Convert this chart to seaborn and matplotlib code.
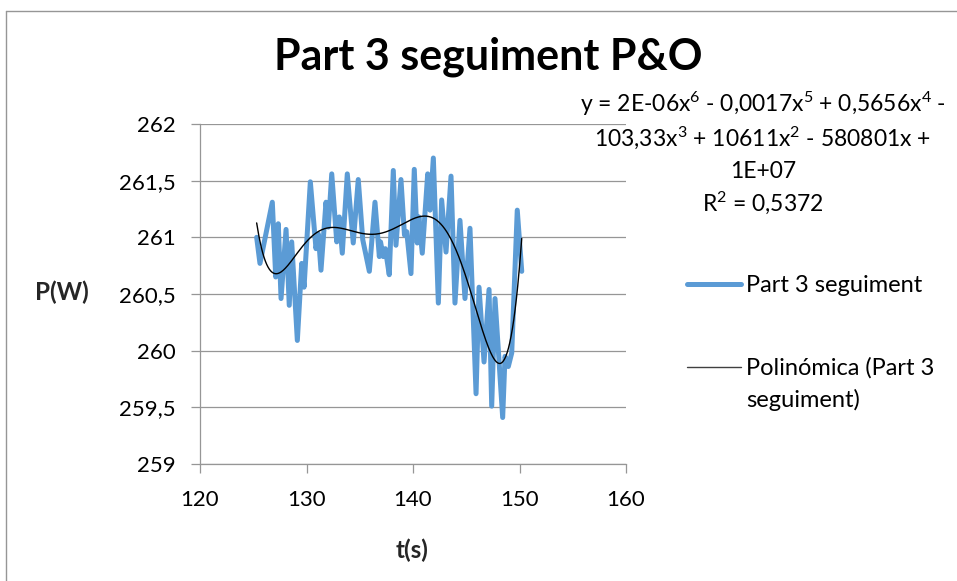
import numpy as np
import pandas as pd
import matplotlib
matplotlib.use("Agg")
import matplotlib.pyplot as plt
import seaborn as sns
from matplotlib.lines import Line2D

# ---------------- data ----------------
t_s = [125.32, 125.63, 126.79, 127.11, 127.35, 127.61, 128.08, 128.38, 128.61,
       129.14, 129.55, 129.77, 130.36, 130.89, 131.11, 131.36, 131.83, 132.05,
       132.37, 132.84, 133.08, 133.36, 133.83, 134.39, 134.86, 135.28, 135.90,
       136.43, 136.84, 136.95, 137.21, 137.40, 137.77, 138.15, 138.40, 138.87,
       139.20, 139.41, 139.81, 140.12, 140.40, 140.55, 140.87, 141.38, 141.60,
       141.91, 142.38, 142.69, 143.10, 143.57, 143.94, 144.41, 144.88, 145.35,
       145.92, 146.20, 146.67, 147.14, 147.39, 147.70, 148.42, 148.64, 148.95,
       149.27, 149.79, 150.21]
p_w = [261.00, 260.77, 261.31, 260.65, 261.12, 260.46, 261.07, 260.40, 260.96,
       260.09, 260.77, 260.56, 261.49, 260.90, 261.03, 260.71, 261.31, 261.09,
       261.56, 260.96, 261.18, 260.86, 261.56, 260.95, 261.51, 260.98, 260.70,
       261.31, 260.83, 260.96, 260.83, 260.90, 260.67, 261.59, 260.93, 261.51,
       261.02, 261.05, 260.68, 261.60, 260.95, 261.18, 260.86, 261.56, 261.24,
       261.70, 260.42, 261.33, 260.87, 261.54, 260.42, 261.15, 260.46, 261.08,
       259.62, 260.56, 259.90, 260.54, 259.51, 260.46, 259.41, 259.95, 259.86,
       259.98, 261.24, 260.70]

title = "Part 3 seguiment P&O"
series_label = "Part 3 seguiment"
trend_label_1 = "Polinómica (Part 3"
trend_label_2 = "seguiment)"
x_label = "t(s)"
y_label = "P(W)"
x_ticks = [120, 130, 140, 150, 160]
y_ticks = [259, 259.5, 260, 260.5, 261, 261.5, 262]
equation_lines = ["y = 2E-06x$^{6}$ - 0,0017x$^{5}$ + 0,5656x$^{4}$ -",
                  "103,33x$^{3}$ + 10611x$^{2}$ - 580801x +",
                  "1E+07",
                  "R$^{2}$ = 0,5372"]

# ---------------- style ----------------
sns.set_theme(style="white")
plt.rcParams['font.family'] = ['Lato', 'DejaVu Sans']
plt.rcParams['mathtext.default'] = 'regular'
plt.rcParams['text.color'] = 'black'

W, H = 957, 581
fig = plt.figure(figsize=(W / 100, H / 100), dpi=100)
fig.patch.set_facecolor('white')

ax = fig.add_axes([200 / W, 1 - 464 / H, 426 / W, 340 / H])

df = pd.DataFrame({"t": t_s, "P": p_w})
sns.lineplot(data=df, x="t", y="P", ax=ax, color="#5B9BD5", linewidth=3.6,
             label=series_label, sort=False, solid_joinstyle='round',
             solid_capstyle='round')

# polynomial (order 6) trendline fitted to the series, as Excel does
tc = np.asarray(t_s)
pc = np.asarray(p_w)
mu = tc.mean()
coef = np.polyfit(tc - mu, pc, 6)
tt = np.linspace(tc.min(), tc.max(), 400)
trend = pd.DataFrame({"t": tt, "P": np.polyval(coef, tt - mu)})
sns.lineplot(data=trend, x="t", y="P", ax=ax, color="black", linewidth=1.0,
             label=trend_label_1)

grey = "#969696"
ax.set_xlim(120, 160)
ax.set_ylim(259, 262)
ax.set_xticks(x_ticks)
ax.set_xticklabels([str(v) for v in x_ticks])
ax.set_yticks(y_ticks)
ax.set_yticklabels([(str(int(v)) if float(v).is_integer() else str(v)).replace('.', ',')
                    for v in y_ticks])
ax.yaxis.grid(True, color=grey, linewidth=0.9)
ax.xaxis.grid(False)
for s in ['top', 'right']:
    ax.spines[s].set_visible(False)
for s in ['left', 'bottom']:
    ax.spines[s].set_color(grey)
    ax.spines[s].set_linewidth(0.9)
ax.tick_params(axis='both', direction='out', length=6.5, width=0.9, color=grey,
               labelsize=16, labelcolor='black')
ax.tick_params(axis='y', pad=11)
ax.tick_params(axis='x', pad=12)
ax.tick_params(left=True, bottom=True)

ax.set_xlabel(x_label, fontsize=17.5, fontweight='bold', va='center')
ax.set_ylabel(y_label, fontsize=17.5, fontweight='bold', rotation=0, ha='center', va='center')
ax.xaxis.set_label_coords((412 - 200) / 426, (464 - 550) / 340)
ax.yaxis.set_label_coords((62 - 200) / 426, (464 - 292) / 340)

ax.set_title(title, fontsize=31, fontweight='bold', x=(488 - 200) / 426,
             y=(464 - 78) / 340, va='baseline', ha='center')

# equation of the trendline
eq_y = [104, 138, 171, 203]
for line, yy in zip(equation_lines, eq_y):
    fig.text(763 / W, 1 - yy / H, line, ha='center', va='center', fontsize=16.5)

# legend
leg = ax.legend(loc='upper left', bbox_to_anchor=(687 / W, 1 - 275 / H),
                bbox_transform=fig.transFigure, frameon=False, fontsize=17,
                handlelength=2.3, handletextpad=0.22, labelspacing=2.6,
                borderpad=0, borderaxespad=0)
leg.get_lines()[1].set_color('#404040')

# second line of the wrapped trendline label, under the first one
fig.canvas.draw()
renderer = fig.canvas.get_renderer()
bb = leg.get_texts()[1].get_window_extent(renderer)
fig.text(bb.x0 / W, (bb.y0 - 32) / H, trend_label_2, ha='left', va='bottom',
         fontsize=17)

# outer chart border (top and left edges visible)
fig.add_artist(Line2D([6 / W, 6 / W], [0, 1 - 11 / H], transform=fig.transFigure,
                      color=grey, linewidth=1.0))
fig.add_artist(Line2D([6 / W, 1], [1 - 11 / H, 1 - 11 / H], transform=fig.transFigure,
                      color=grey, linewidth=1.0))

fig.savefig("out.png", dpi=100, facecolor='white')
